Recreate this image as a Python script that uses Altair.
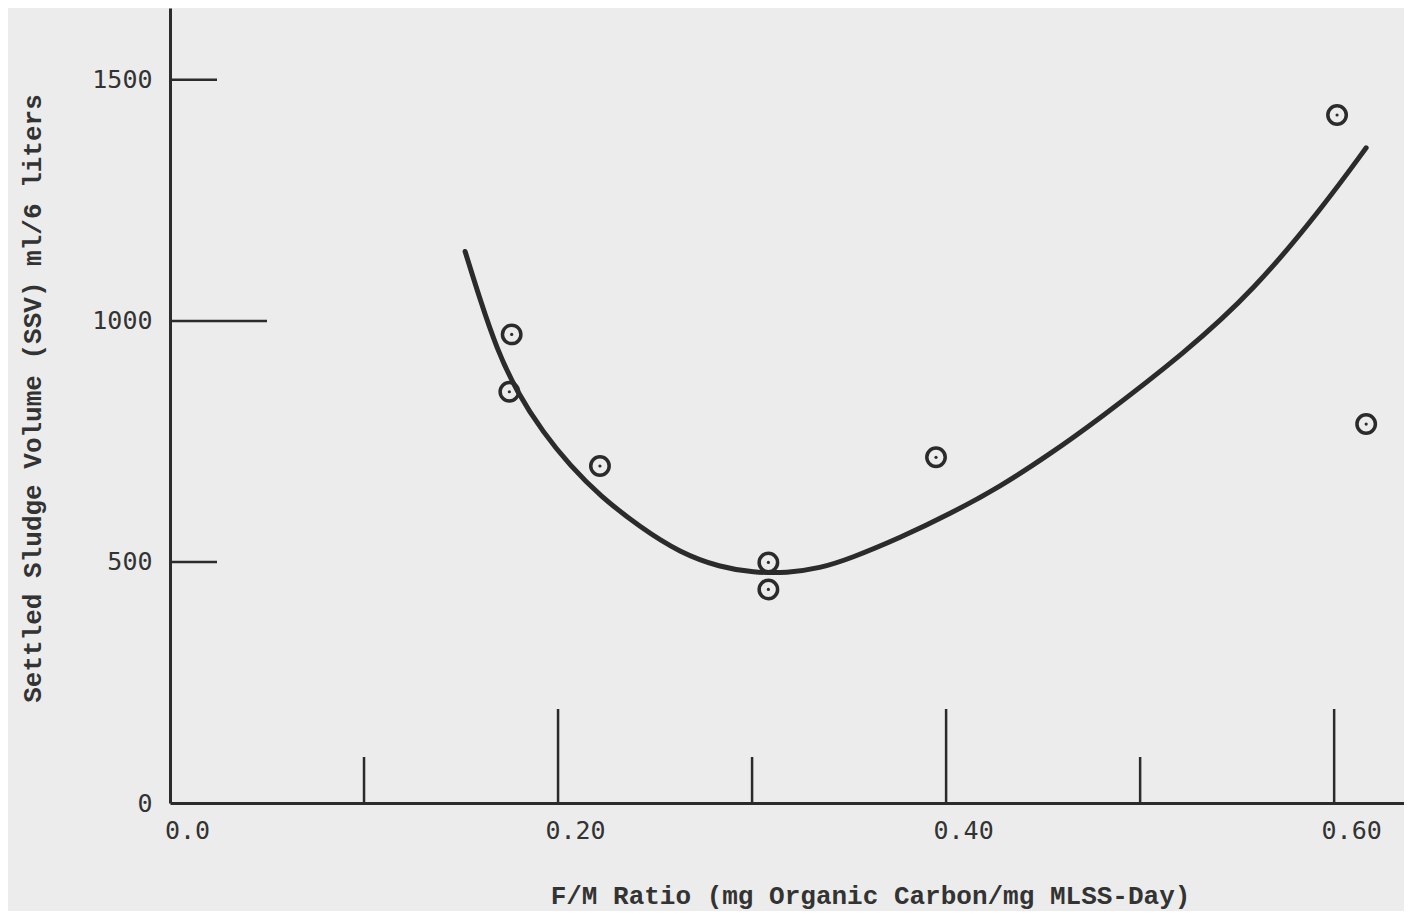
import altair as alt
import pandas as pd

# Observed data points (F/M ratio, settled sludge volume)
fm_ratio = [0.1761, 0.1749, 0.2216, 0.3084, 0.3084, 0.3948, 0.6015, 0.6165]
ssv_ml = [972, 853, 699, 499, 443, 717, 1427, 786]

# Hand-drawn fitted curve
curve_fm = [0.1521, 0.1598, 0.1684, 0.1787, 0.1924, 0.2062, 0.2216, 0.2423,
            0.2629, 0.2835, 0.3007, 0.3179, 0.3351, 0.3505, 0.3763, 0.4021,
            0.4278, 0.4536, 0.4777, 0.5232, 0.5588, 0.5943, 0.6165]
curve_ssv = [1144, 1044, 942, 853, 768, 700, 637, 572,
             519, 489, 478, 477, 487, 507, 550, 600,
             656, 724, 793, 934, 1064, 1237, 1359]

# Axis tick values
x_labels = [0.0, 0.2, 0.4, 0.6]
y_labels = [0, 500, 1000, 1500]
x_minor_ticks = [0.1, 0.3, 0.5]
x_major_ticks = [0.2, 0.4, 0.6]
y_minor_ticks = [500, 1500]
y_major_ticks = [1000]

X_MAX = 0.636
Y_MAX = 1649
W, H = 1234, 795
INK = "#2b2b2b"

pts = pd.DataFrame({"fm": fm_ratio, "ssv": ssv_ml})
curve = pd.DataFrame({"fm": curve_fm, "ssv": curve_ssv})

xscale = alt.Scale(domain=[0, X_MAX], nice=False, zero=False)
yscale = alt.Scale(domain=[0, Y_MAX], nice=False, zero=False)

x_axis = alt.Axis(
    title="F/M Ratio (mg Organic Carbon/mg MLSS-Day)",
    values=x_labels,
    labelExpr="datum.value == 0 ? '0.0' : format(datum.value, '.2f')",
    labelFont="DejaVu Sans Mono", labelFontSize=25, labelColor="#333333",
    labelPadding=15, labelOffset=17, labelFlush=False,
    ticks=False, grid=False,
    domainColor=INK, domainWidth=3,
    titleFont="Liberation Mono", titleFontSize=26, titleFontWeight="bold",
    titleColor="#333333", titleX=700, titleY=92, titleBaseline="middle",
    titleAnchor="middle",
)
y_axis = alt.Axis(
    title="Settled Sludge Volume (SSV) ml/6 liters",
    values=y_labels,
    format="d",
    labelFont="DejaVu Sans Mono", labelFontSize=25, labelColor="#333333",
    labelPadding=18, labelFlush=False, labelBaseline="middle",
    ticks=False, grid=False,
    domainColor=INK, domainWidth=3,
    titleFont="Liberation Mono", titleFontSize=26, titleFontWeight="bold",
    titleColor="#333333", titleX=-138, titleY=390, titleBaseline="middle",
    titleAngle=270, titleAlign="center",
)

base_curve = alt.Chart(curve).mark_line(
    interpolate="basis", strokeWidth=5, color=INK, strokeCap="round"
).encode(
    x=alt.X("fm:Q", scale=xscale, axis=x_axis),
    y=alt.Y("ssv:Q", scale=yscale, axis=y_axis),
    order="fm:Q",
)

rings = alt.Chart(pts).mark_point(
    shape="circle", filled=False, size=340, strokeWidth=3.5, color=INK, opacity=1
).encode(x=alt.X("fm:Q", scale=xscale), y=alt.Y("ssv:Q", scale=yscale))

dots = alt.Chart(pts).mark_point(
    shape="circle", filled=True, size=10, color=INK, opacity=1
).encode(x=alt.X("fm:Q", scale=xscale), y=alt.Y("ssv:Q", scale=yscale))

xt_minor = alt.Chart(pd.DataFrame({"t": x_minor_ticks})).mark_rule(
    color=INK, strokeWidth=2.5
).encode(x=alt.X("t:Q", scale=xscale), y=alt.value(H), y2=alt.value(H - 46))

xt_major = alt.Chart(pd.DataFrame({"t": x_major_ticks})).mark_rule(
    color=INK, strokeWidth=2.5
).encode(x=alt.X("t:Q", scale=xscale), y=alt.value(H), y2=alt.value(H - 94))

yt_minor = alt.Chart(pd.DataFrame({"t": y_minor_ticks})).mark_rule(
    color=INK, strokeWidth=2.5
).encode(y=alt.Y("t:Q", scale=yscale), x=alt.value(0), x2=alt.value(47))

yt_major = alt.Chart(pd.DataFrame({"t": y_major_ticks})).mark_rule(
    color=INK, strokeWidth=2.5
).encode(y=alt.Y("t:Q", scale=yscale), x=alt.value(0), x2=alt.value(97))

chart = alt.layer(
    base_curve, xt_minor, xt_major, yt_minor, yt_major, rings, dots
).properties(
    width=W, height=H,
    autosize=alt.AutoSizeParams(type="none"),
    padding={"left": 162, "top": 0, "right": 0, "bottom": 108},
    background="#ececec",
).configure_view(stroke=None)

chart.save("out.html", embed_options={"renderer": "svg", "actions": False})
